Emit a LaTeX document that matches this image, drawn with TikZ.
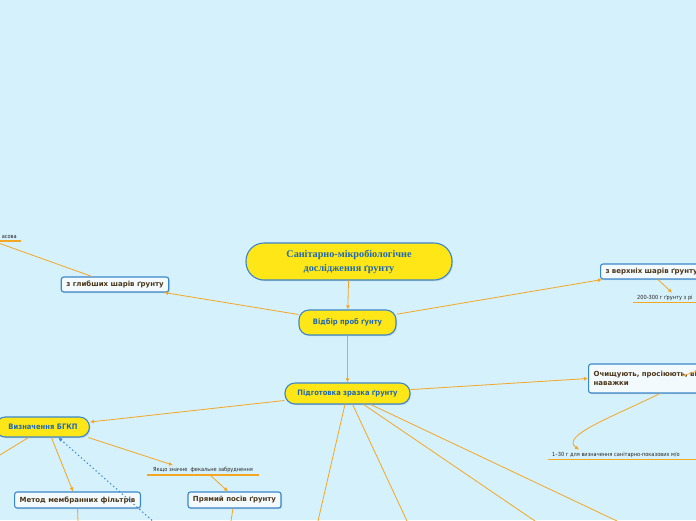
\documentclass[tikz,border=0pt]{standalone}
\usepackage{fontspec}
\setmainfont{DejaVu Sans}
\newfontfamily\titlefont{Liberation Serif}
\newfontfamily\condfont{DejaVu Sans Condensed}
\usetikzlibrary{arrows.meta,shadows}
\definecolor{bg}{HTML}{D5F1FB}
\definecolor{ln}{HTML}{F5A623}
\definecolor{yel}{HTML}{FFE617}
\definecolor{bdr}{HTML}{3A86CC}
\definecolor{ytxt}{HTML}{1F6AAE}
\definecolor{btxt}{HTML}{4A3518}
\definecolor{wfill}{HTML}{F2FAFE}
\tikzset{
  ynode/.style={draw=bdr, line width=1.1pt, fill=yel, rounded corners=10pt,
    text=ytxt, font=\condfont\bfseries\fontsize{7.5}{9}\selectfont,
    drop shadow={shadow xshift=1pt, shadow yshift=-1.2pt, opacity=0.25}},
  wnode/.style={draw=bdr, line width=1.1pt, fill=wfill, rounded corners=2.5pt,
    text=btxt, font=\bfseries\fontsize{7}{9}\selectfont, inner xsep=5pt, inner ysep=3pt,
    drop shadow={shadow xshift=1pt, shadow yshift=-1.2pt, opacity=0.25}},
  lbl/.style={font=\condfont\fontsize{5.6}{7}\selectfont, text=black!85, inner xsep=4pt, inner ysep=2pt},
  ul/.style={draw=ln, line width=1.5pt},
  conn/.style={draw=ln, line width=0.8pt},
  arr/.style={conn, -{Latex[length=4pt,width=4pt]}},
  dotarr/.style={draw=bdr, line width=1.1pt, dash pattern=on 1.3pt off 2.6pt, -{Latex[length=4pt,width=4pt]}}
}
\begin{document}
\begin{tikzpicture}[x=1pt,y=-1pt]
\fill[bg] (0,0) rectangle (696,520);
\useasboundingbox (0,0) rectangle (696,520);

% main nodes
\node[ynode, rounded corners=18pt, minimum width=206pt, minimum height=37pt,
      font=\titlefont\bfseries\fontsize{10.2}{14}\selectfont, align=center] (title) at (349,261.5)
      {Санітарно-мікробіологічне\\дослідження ґрунту};
\node[ynode, minimum width=97pt, minimum height=25pt] (vid) at (347.5,322.5) {Відбір проб ґунту};
\node[ynode, minimum width=125pt, minimum height=21pt] (pidg) at (347.5,393.5) {Підготовка зразка ґрунту};
\node[ynode, anchor=east, text width=70pt, align=right, inner xsep=12pt, minimum height=20pt] (bgkp) at (90,427) {Визначення БГКП};

\node[wnode, minimum height=15pt] (glyb) at (115,284.5) {з глибших шарів ґрунту};
\node[wnode, anchor=west, minimum height=15pt, text width=100pt, align=left] (verh) at (600,271.5) {з верхніх шарів ґрунту};
\node[wnode, anchor=west, minimum height=29pt, text width=120pt, align=left,
      font=\bfseries\fontsize{7}{8.6}\selectfont] (ochy) at (588,378.5) {Очищують, просіюють, ві\\наважки};
\node[wnode, minimum height=16pt] (metod) at (77.5,500) {Метод мембранних фільтрів};
\node[wnode, minimum height=16pt] (pryam) at (234.5,500) {Прямий посів ґрунту};

% labels
\node[lbl, anchor=south east] (asova) at (21,241) {асова};
\draw[ul] (asova.south west) -- (asova.south east);
\node[lbl, anchor=south west] (l200) at (633,302.5) {200-300 г ґрунту з рі};
\draw[ul] (l200.south west) -- ++(70,0);
\node[lbl, anchor=south] (yak) at (203,475) {Якщо значне \ фекальне забруднення};
\draw[ul] ([xshift=-2pt]yak.south west) -- ([xshift=2pt]yak.south east);
\node[lbl, anchor=south west] (l130) at (548,459.5) {1–30 г для визначення санітарно-показових м/о};
\draw[ul] (l130.south west) -- ++(160,0);

% free ends
\coordinate (e1) at (-10,240);
\coordinate (e2) at (-5,458);
\coordinate (e3) at (78,521);
\coordinate (e4) at (231,521);
\coordinate (e5) at (155,523);
\coordinate (b1) at (318,521);
\coordinate (b2) at (407,521);
\coordinate (b3) at (535,521);
\coordinate (b4) at (617,521);
\coordinate (o1) at (682,376);
\coordinate (o2) at (700,370);

% connectors
\draw[arr] (title) -- (vid);
\draw[arr] (vid) -- (glyb);
\draw[arr] (vid) -- ([xshift=2pt]verh.south west);
\draw[arr] (vid) -- (pidg);
\draw[arr] (pidg) -- (ochy.west);
\draw[arr] (pidg) -- ([yshift=5pt]bgkp.east);
\draw[conn] ([xshift=-23pt]glyb.north) -- (e1);
\draw[arr] ([xshift=58pt]verh.south west) -- ([xshift=39pt]l200.north west);
\draw[arr] ([xshift=72pt]ochy.south west) .. controls (610,418) and (560,436) .. ([xshift=31pt]l130.north west);
\draw[conn] (o1) -- (o2);
\draw[conn] ([xshift=-14pt]bgkp.south) -- (e2);
\draw[arr] ([xshift=9pt]bgkp.south) -- ([xshift=-4.5pt]metod.north);
\draw[arr] ([xshift=46pt]bgkp.south) -- ([xshift=-30pt]yak.north);
\draw[arr] ([xshift=7pt]yak.south) -- ([xshift=-6.5pt]pryam.north);
\draw[conn] (metod.south) -- (e3);
\draw[conn] ([xshift=-1.5pt]pryam.south) -- (e4);
\draw[dotarr] (e5) -- ([xshift=16pt]bgkp.south);
\draw[conn] (pidg) -- (b1);
\draw[conn] (pidg) -- (b2);
\draw[conn] (pidg) -- (b3);
\draw[conn] (pidg) -- (b4);
\end{tikzpicture}
\end{document}
